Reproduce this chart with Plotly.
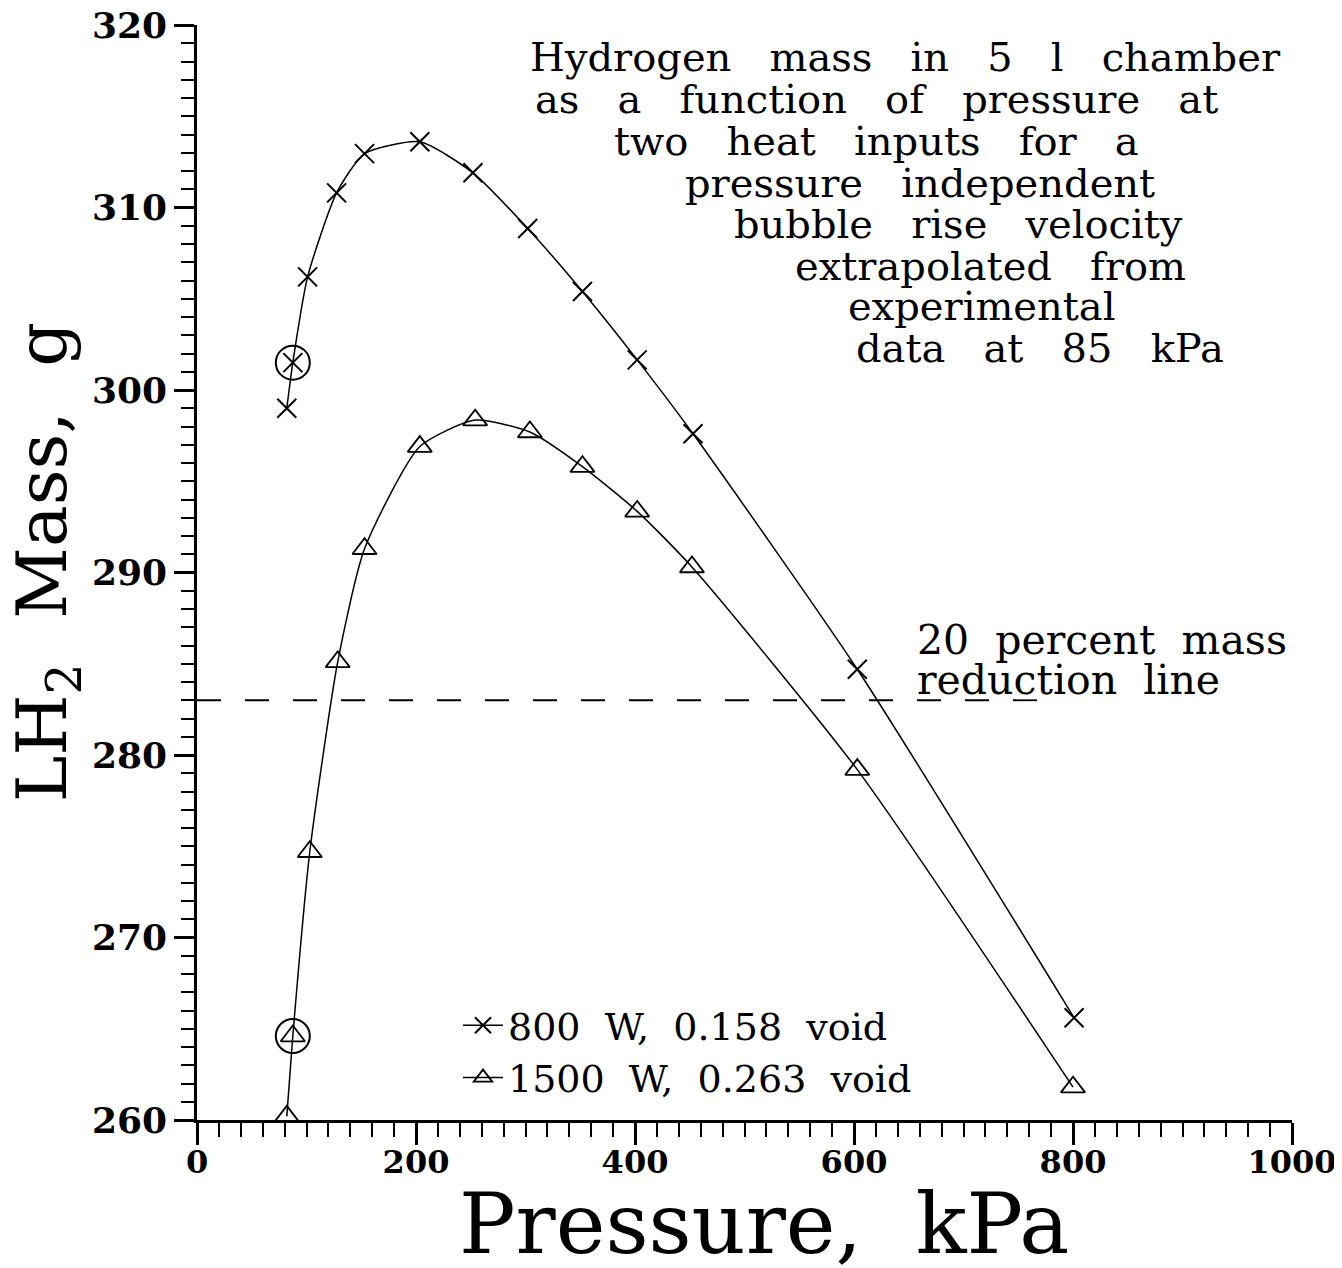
import plotly.graph_objects as go

# ---- data ----
pressure_800 = [82, 87.5, 101, 127.5, 153, 203.5, 252, 302, 352, 402, 453, 603, 801]
mass_800 = [299.0, 301.5, 306.2, 310.8, 312.95, 313.6, 311.9, 308.85, 305.4, 301.65, 297.6, 284.7, 265.6]

pressure_1500 = [82, 87.5, 103, 128.5, 153, 203.5, 254, 304, 352, 402, 452, 603, 800]
mass_1500 = [260.2, 264.6, 274.7, 285.1, 291.3, 296.9, 298.35, 297.7, 295.8, 293.35, 290.3, 279.2, 261.8]

experimental_index = 1  # circled point: experimental data at 85 kPa

reduction_x = [0, 785]
reduction_mass = [283.0, 283.0]

x_ticks = [0, 200, 400, 600, 800, 1000]
y_ticks = [260, 270, 280, 290, 300, 310, 320]

x_title = "Pressure,  kPa"
y_title = "LH<sub>2</sub>  Mass,  g"

note_lines = [
    "Hydrogen   mass   in   5   l   chamber",
    "as   a   function   of   pressure   at",
    "two   heat   inputs   for   a",
    "pressure   independent",
    "bubble   rise   velocity",
    "extrapolated   from",
    "experimental",
    "data   at   85   kPa",
]
reduction_label = ["20  percent  mass", "reduction  line"]

# ---- layout geometry (page pixels of the reference) ----
PAGE_W, PAGE_H = 1342, 1268
OFF = 8  # default body margin of the html page
L, R, T, B = 197, 1292, 25, 1120
FONT = "DejaVu Serif"


def px_x(px):
    return (px - L) / (R - L)


def px_y(py):
    return (B - py) / (B - T)


fig = go.Figure()

fig.add_trace(go.Scatter(
    x=pressure_800, y=mass_800, mode="lines+markers",
    name="800  W,  0.158  void",
    line=dict(color="black", width=1.5, shape="spline", smoothing=0.6),
    marker=dict(symbol="x-thin-open", size=19, line=dict(color="black", width=2)),
    cliponaxis=False,
))
fig.add_trace(go.Scatter(
    x=pressure_1500, y=mass_1500, mode="lines+markers",
    name="1500  W,  0.263  void",
    line=dict(color="black", width=1.5, shape="spline", smoothing=0.6),
    marker=dict(symbol="triangle-up-open", size=21, line=dict(color="black", width=1.8)),
    cliponaxis=False,
))
fig.add_trace(go.Scatter(
    x=[pressure_800[experimental_index], pressure_1500[experimental_index]],
    y=[mass_800[experimental_index], mass_1500[experimental_index]],
    mode="markers", showlegend=False,
    marker=dict(symbol="circle-open", size=34, color="black", line=dict(color="black", width=2)),
    cliponaxis=False,
))
fig.add_trace(go.Scatter(
    x=reduction_x, y=reduction_mass, mode="lines", showlegend=False,
    line=dict(color="black", width=1.8, dash="24px,24px"),
))

# note text at top right (line centres in px)
note_centres = [(905, 57), (876, 99), (876, 141), (920, 183), (958, 224), (990, 266), (982, 306), (1040, 348)]
for txt, (cx, cy) in zip(note_lines, note_centres):
    fig.add_annotation(x=px_x(cx), y=px_y(cy), xref="paper", yref="paper",
                       text=txt, showarrow=False, xanchor="center", yanchor="middle",
                       font=dict(family=FONT, size=40, color="black"))

for i, txt in enumerate(reduction_label):
    fig.add_annotation(x=px_x(915), y=px_y(640 + 40 * i), xref="paper", yref="paper",
                       text=txt, showarrow=False, xanchor="left", yanchor="middle",
                       font=dict(family=FONT, size=41, color="black"))

# axis titles
fig.add_annotation(x=px_x(764), y=px_y(1224), xref="paper", yref="paper",
                   text=x_title, showarrow=False, xanchor="center", yanchor="middle",
                   font=dict(family=FONT, size=84, color="black"))
fig.add_annotation(x=px_x(47), y=px_y(562), xref="paper", yref="paper",
                   text=y_title, showarrow=False, xanchor="center", yanchor="middle",
                   textangle=-90, font=dict(family=FONT, size=70, color="black"))

fig.update_layout(
    width=PAGE_W - OFF, height=PAGE_H - OFF,
    margin=dict(l=L - OFF, r=PAGE_W - R, t=T - OFF, b=PAGE_H - B, autoexpand=False),
    paper_bgcolor="white", plot_bgcolor="white",
    font=dict(family=FONT, color="black"),
    showlegend=True,
    legend=dict(x=px_x(458), y=px_y(994), xanchor="left", yanchor="top",
                bgcolor="rgba(0,0,0,0)", font=dict(family=FONT, size=38, color="black"),
                itemwidth=40, tracegroupgap=0),
)

fig.update_xaxes(
    range=[0, 1000], tickvals=x_ticks, ticktext=[str(v) for v in x_ticks],
    automargin=False, ticklabeloverflow="allow", ticklabelstandoff=-10,
    showline=True, linecolor="black", linewidth=2.5, showgrid=False, zeroline=False,
    ticks="outside", ticklen=22, tickwidth=2.5, tickcolor="black",
    minor=dict(dtick=20, ticks="outside", ticklen=14, tickwidth=2, tickcolor="black", showgrid=False),
    tickfont=dict(family=FONT, size=32, weight="bold", color="black"),
)
fig.update_yaxes(
    range=[260, 320], tickvals=y_ticks, ticktext=[str(v) for v in y_ticks],
    automargin=False, ticklabeloverflow="allow",
    showline=True, linecolor="black", linewidth=2.5, showgrid=False, zeroline=False,
    ticks="outside", ticklen=20, tickwidth=2.5, tickcolor="black",
    minor=dict(dtick=1, ticks="outside", ticklen=13, tickwidth=2, tickcolor="black", showgrid=False),
    tickfont=dict(family=FONT, size=36, weight="bold", color="black"),
)

fig.write_html("out.html")
